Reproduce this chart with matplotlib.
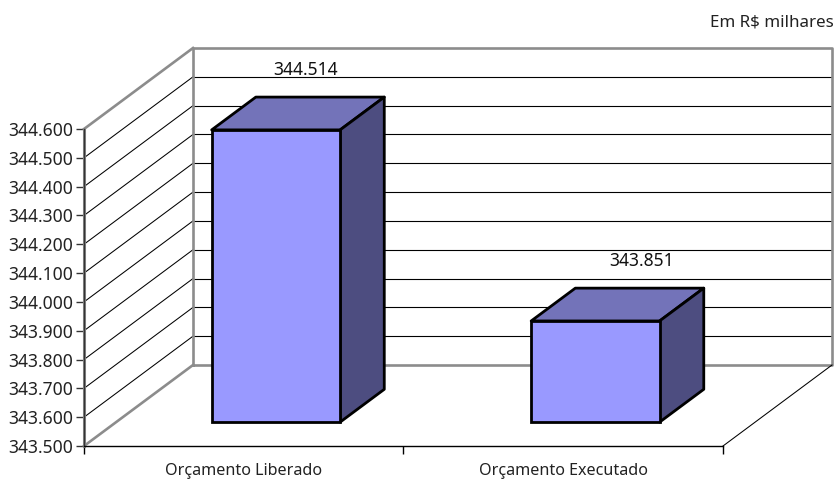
import matplotlib
matplotlib.use("Agg")
import matplotlib.pyplot as plt
from matplotlib.patches import Polygon

plt.rcParams['font.family'] = ['Noto Sans', 'DejaVu Sans']

categories = ["Orçamento Liberado", "Orçamento Executado"]
values = [344.514, 343.851]
value_labels = ["344.514", "343.851"]
y_ticks = [343.5, 343.6, 343.7, 343.8, 343.9, 344.0, 344.1, 344.2, 344.3, 344.4, 344.5, 344.6]
y_labels = ["343.500", "343.600", "343.700", "343.800", "343.900", "344.000",
            "344.100", "344.200", "344.300", "344.400", "344.500", "344.600"]
label_dx = [30, 46]

W, H = 837, 480
fig = plt.figure(figsize=(W / 100, H / 100), dpi=100)
ax = fig.add_axes([84 / W, (H - 446) / H, 639 / W, 317 / H])
ax.set_xlim(0, 2)
ax.set_ylim(y_ticks[0], y_ticks[-1])
ymin, ymax = y_ticks[0], y_ticks[-1]

# depth of the fake 3d box, in data units
dx = 109 / 319.5
dy = 81 / 288.2
bar_w = 0.402
gap = 0.295     # share of depth in front of the bars
bar_d = 0.405   # share of depth taken by the bars

GRAY = "#8c8c8c"

# gridlines on the left wall and the back wall
for t in y_ticks[1:-1]:
    ax.plot([0, dx], [t, t + dy], color="black", lw=0.75, clip_on=False, zorder=1)
    ax.plot([dx, 2 + dx], [t + dy, t + dy], color="black", lw=0.8, clip_on=False, zorder=1)

# back wall, floor and wall outlines
ax.plot([dx, dx, 2 + dx, 2 + dx, dx], [ymin + dy, ymax + dy, ymax + dy, ymin + dy, ymin + dy],
        color=GRAY, lw=1.9, clip_on=False, zorder=2)
ax.plot([0, dx, dx], [ymin, ymin + dy, ymin + dy], color=GRAY, lw=1.9, clip_on=False, zorder=2)
ax.plot([0, dx], [ymax, ymax + dy], color=GRAY, lw=1.9, clip_on=False, zorder=2)
ax.plot([0, 0], [ymin, ymax], color=GRAY, lw=2.2, clip_on=False, zorder=2)
ax.plot([2, 2 + dx], [ymin, ymin + dy], color="black", lw=0.75, clip_on=False, zorder=2)

# bars: front face, top and side
for i, v in enumerate(values):
    x0 = i + 0.5 - bar_w / 2 + gap * dx
    y0 = ymin + gap * dy
    top = v + gap * dy
    ddx = bar_d * dx
    ddy = bar_d * dy
    ax.bar(x0, v - ymin, width=bar_w, bottom=y0, align="edge", color="#9999ff",
           edgecolor="black", lw=2, zorder=4, clip_on=False)
    ax.add_patch(Polygon([(x0, top), (x0 + ddx, top + ddy), (x0 + bar_w + ddx, top + ddy), (x0 + bar_w, top)],
                         closed=True, fc="#7373b9", ec="black", lw=2, joinstyle="round", zorder=3, clip_on=False))
    ax.add_patch(Polygon([(x0 + bar_w, y0), (x0 + bar_w + ddx, y0 + ddy), (x0 + bar_w + ddx, top + ddy), (x0 + bar_w, top)],
                         closed=True, fc="#4d4d80", ec="black", lw=2, joinstyle="round", zorder=3, clip_on=False))
    ax.annotate(value_labels[i], (x0 + bar_w / 2, top), xytext=(label_dx[i], 60), textcoords="offset pixels",
                ha="center", va="center", fontsize=12.6, color="#111111", zorder=6, annotation_clip=False)

ax.patch.set_visible(False)
for s in ["top", "right"]:
    ax.spines[s].set_visible(False)
ax.spines["left"].set_color("#333333")
ax.spines["left"].set_linewidth(1.0)
ax.spines["bottom"].set_color("black")
ax.spines["bottom"].set_linewidth(1.0)
ax.spines["left"].set_zorder(3)
ax.spines["bottom"].set_zorder(3)

ax.set_yticks(y_ticks)
ax.set_yticklabels(y_labels, fontsize=12.6, color="#222222")
ax.tick_params(axis="y", length=6, width=1, color="#333333", pad=1.5)
ax.set_xticks([0, 1, 2])
ax.set_xticklabels([])
ax.tick_params(axis="x", which="major", length=6, width=1, color="black")
ax.set_xticks([0.5, 1.5], minor=True)
ax.set_xticklabels(categories, minor=True, fontsize=11.6, color="#222222")
ax.tick_params(axis="x", which="minor", length=0, pad=12)

fig.text(834 / W, 1 - 22 / H, "Em R$ milhares", ha="right", va="center", fontsize=12.2, color="#222222")

fig.savefig("out.png", dpi=100)
